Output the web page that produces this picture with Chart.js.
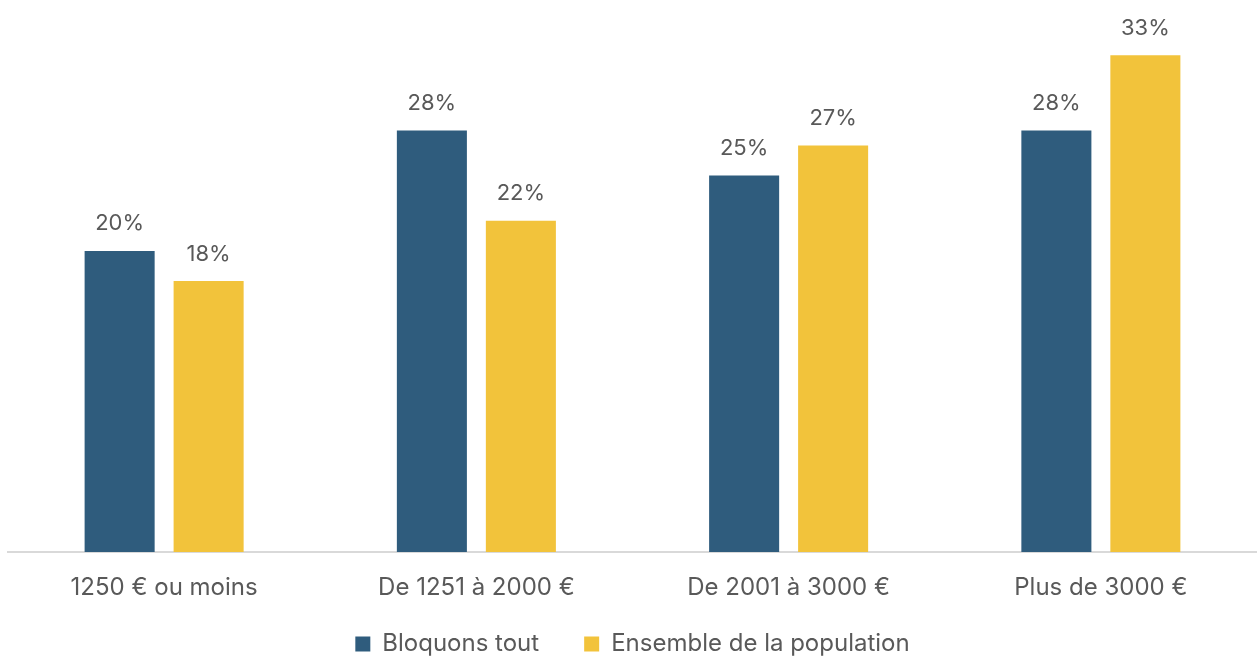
<!DOCTYPE html>
<html>
<head>
<meta charset="utf-8">
<script src="https://cdn.jsdelivr.net/npm/chart.js@4.4.1/dist/chart.umd.min.js"></script>
<style>
  html, body { margin: 0; padding: 0; background: #fff; }
  #wrap { width: 1257px; height: 657px; }
</style>
</head>
<body>
<div id="wrap"><canvas id="myChart" width="1257" height="657"></canvas></div>
<script>
// tranches de revenus
var categories = ['1250 € ou moins', 'De 1251 à 2000 €', 'De 2001 à 3000 €', 'Plus de 3000 €'];
var seriesNames = ['Bloquons tout', 'Ensemble de la population'];
var bloquons = [20, 28, 25, 28];
var ensemble = [18, 22, 27, 33];

var BLUE = '#2F5C7D';
var YELLOW = '#F2C33B';
var TEXT = '#595959';
var FONT = 'Inter';

// etiquettes "xx%" au dessus des barres
var valueLabels = {
    id: 'valueLabels',
    afterDatasetsDraw: function(chart) {
        var ctx = chart.ctx;
        ctx.save();
        ctx.font = '22px ' + FONT;
        ctx.fillStyle = TEXT;
        ctx.textAlign = 'center';
        ctx.textBaseline = 'middle';
        chart.data.datasets.forEach(function(ds, i) {
            var meta = chart.getDatasetMeta(i);
            meta.data.forEach(function(bar, j) {
                ctx.fillText(ds.data[j] + '%', bar.x, bar.y - 27);
            });
        });
        ctx.restore();
    }
};

// l'axe x est compact (35px) pour garder la legende en bas,
// on rallonge sa boite apres coup sinon les libelles sont coupes
var axisLabelRoom = {
    id: 'axisLabelRoom',
    afterLayout: function(chart) {
        chart.scales.x.bottom = chart.height;
    }
};

var ctx = document.getElementById('myChart');
var myChart = new Chart(ctx, {
    type: 'bar',
    data: {
        labels: categories,
        datasets: [{
            label: seriesNames[0],
            data: bloquons,
            backgroundColor: BLUE
        }, {
            label: seriesNames[1],
            data: ensemble,
            backgroundColor: YELLOW
        }]
    },
    options: {
        responsive: false,
        animation: false,
        devicePixelRatio: 1,
        categoryPercentage: 0.57,
        barPercentage: 0.787,
        layout: { padding: { top: 10, left: 8, right: 0, bottom: 0 } },
        plugins: {
            tooltip: { enabled: false },
            legend: {
                position: 'bottom',
                maxHeight: 70,
                labels: {
                    boxWidth: 15,
                    boxHeight: 15,
                    padding: 45,
                    color: TEXT,
                    font: { family: FONT, size: 24 }
                }
            }
        },
        scales: {
            x: {
                grid: { display: false, drawTicks: false },
                border: { display: true, color: '#D9D9D9', width: 2 },
                ticks: {
                    color: TEXT,
                    padding: 21,
                    font: { family: FONT, size: 24 }
                },
                afterFit: function(scale) {
                    scale.height = 35;
                }
            },
            y: {
                display: false,
                min: 0,
                max: 36
            }
        }
    },
    plugins: [valueLabels, axisLabelRoom]
});
</script>
</body>
</html>
